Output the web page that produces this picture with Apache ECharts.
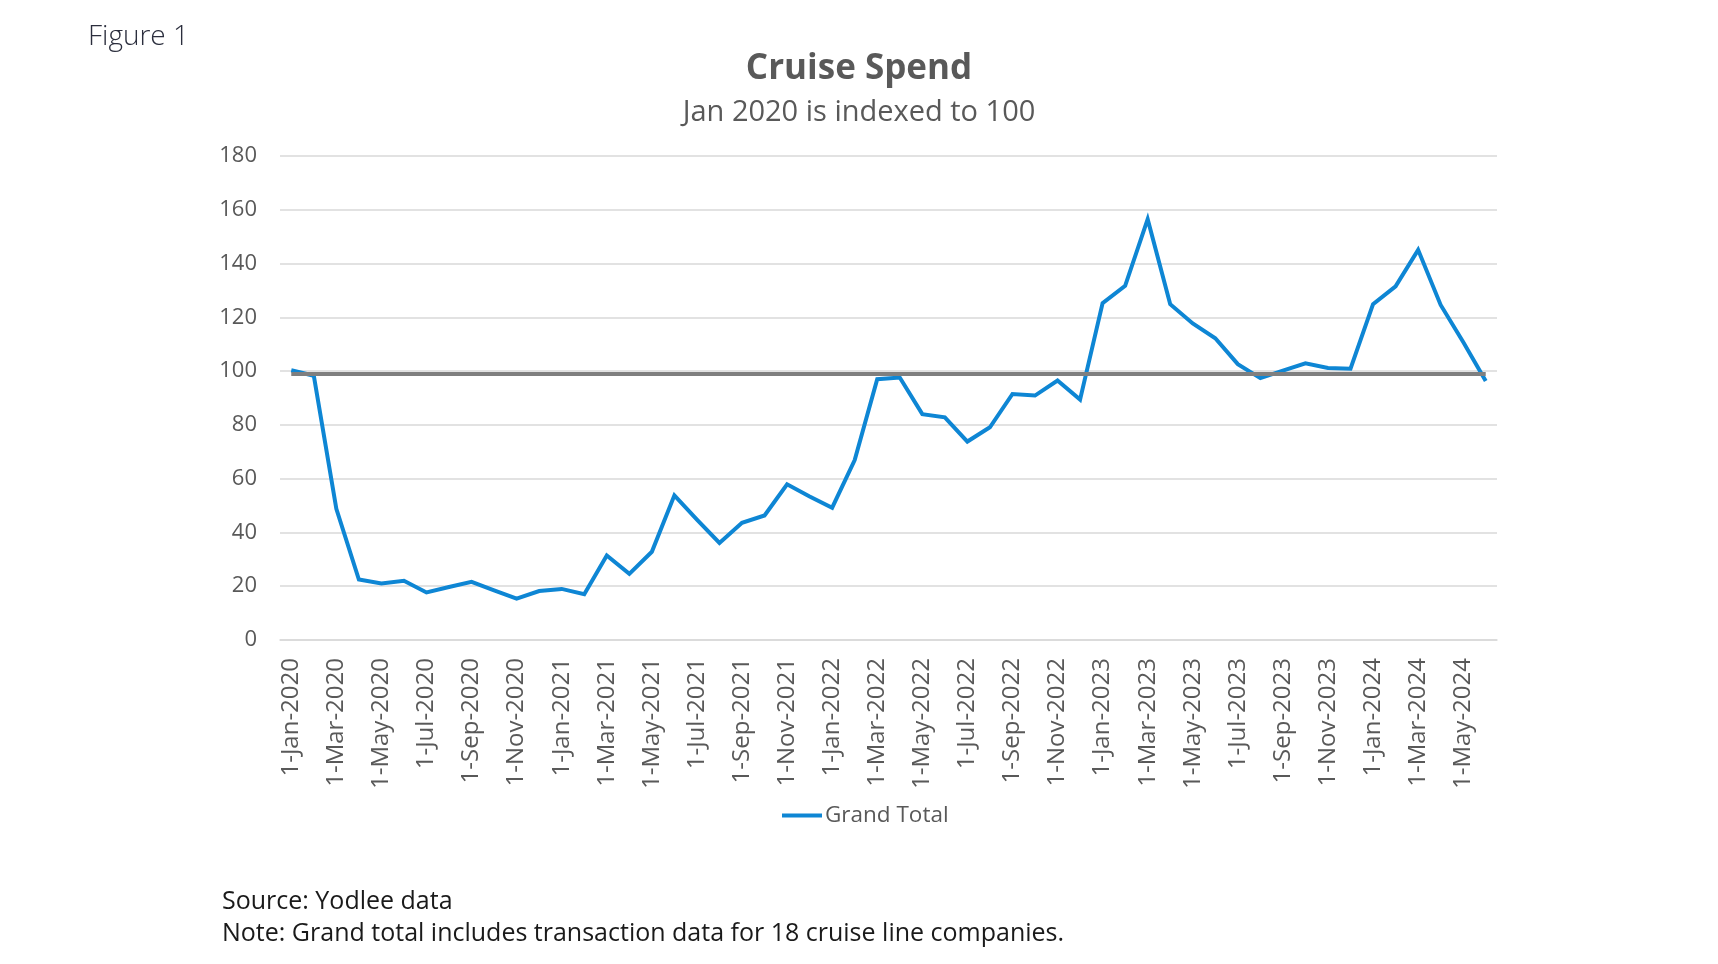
<!DOCTYPE html>
<html lang="en">
  <head>
    <meta charset="UTF-8" />
    <title>Cruise Spend</title>
    <script src="https://cdn.jsdelivr.net/npm/echarts@6.0.0/dist/echarts.min.js"></script>
    <style>
      html, body { margin: 0; padding: 0; background: #fff; }
      #chart { width: 1718px; height: 964px; }
    </style>
  </head>
  <body>
    <div id="chart"></div>
    <script>
      // monthly categories, Jan 2020 .. Jun 2024
      const months = [
        '1-Jan-2020', '1-Feb-2020', '1-Mar-2020', '1-Apr-2020', '1-May-2020', '1-Jun-2020',
        '1-Jul-2020', '1-Aug-2020', '1-Sep-2020', '1-Oct-2020', '1-Nov-2020', '1-Dec-2020',
        '1-Jan-2021', '1-Feb-2021', '1-Mar-2021', '1-Apr-2021', '1-May-2021', '1-Jun-2021',
        '1-Jul-2021', '1-Aug-2021', '1-Sep-2021', '1-Oct-2021', '1-Nov-2021', '1-Dec-2021',
        '1-Jan-2022', '1-Feb-2022', '1-Mar-2022', '1-Apr-2022', '1-May-2022', '1-Jun-2022',
        '1-Jul-2022', '1-Aug-2022', '1-Sep-2022', '1-Oct-2022', '1-Nov-2022', '1-Dec-2022',
        '1-Jan-2023', '1-Feb-2023', '1-Mar-2023', '1-Apr-2023', '1-May-2023', '1-Jun-2023',
        '1-Jul-2023', '1-Aug-2023', '1-Sep-2023', '1-Oct-2023', '1-Nov-2023', '1-Dec-2023',
        '1-Jan-2024', '1-Feb-2024', '1-Mar-2024', '1-Apr-2024', '1-May-2024', '1-Jun-2024'
      ];

      // Grand Total index (Jan 2020 = 100)
      const grandTotal = [
        100.3, 98.3, 48.8, 22.5, 21.0, 22.0, 17.7, 19.7, 21.6, 18.5, 15.4, 18.2,
        19.0, 17.0, 31.4, 24.6, 32.8, 53.8, 44.8, 36.1, 43.6, 46.3, 57.9, 53.4,
        49.2, 66.9, 97.0, 97.6, 84.0, 82.8, 73.8, 79.1, 91.5, 90.9, 96.5, 89.4,
        125.3, 131.7, 156.5, 124.9, 117.7, 112.2, 102.6, 97.4, 100.2, 102.9, 101.2, 100.9,
        124.9, 131.5, 145.1, 124.6, 110.8, 96.3
      ];

      // grey reference line
      const baseline = 99.2;

      const yTicks = { min: 0, max: 180, step: 20 };

      const FONT = '"Open Sans", sans-serif';
      const chart = echarts.init(document.getElementById('chart'));

      chart.setOption({
        animation: false,
        textStyle: { fontFamily: FONT },
        title: {
          text: 'Cruise Spend',
          subtext: 'Jan 2020 is indexed to 100',
          left: 'center',
          top: 47,
          itemGap: 11,
          textStyle: { fontFamily: FONT, fontSize: 35, fontWeight: 'bold', color: '#595959' },
          subtextStyle: { fontFamily: FONT, fontSize: 29, color: '#595959' }
        },
        legend: {
          left: 777,
          top: 799,
          icon: 'rect',
          itemWidth: 40,
          itemHeight: 4,
          itemGap: 4,
          textStyle: { fontFamily: FONT, fontSize: 22.5, color: '#595959', padding: [0, 0, 0, -2] },
          data: ['Grand Total']
        },
        grid: { left: 280, right: 221, top: 156, bottom: 324, containLabel: false },
        xAxis: {
          type: 'category',
          data: months,
          boundaryGap: true,
          axisLine: { show: true, lineStyle: { color: '#d9d9d9', width: 1.5 } },
          axisTick: { show: false },
          axisLabel: {
            interval: 1,
            rotate: 90,
            margin: 18,
            fontSize: 24,
            color: '#595959',
            fontFamily: FONT
          }
        },
        yAxis: {
          type: 'value',
          min: yTicks.min,
          max: yTicks.max,
          interval: yTicks.step,
          axisLine: { show: false },
          axisTick: { show: false },
          splitLine: { lineStyle: { color: '#d9d9d9', width: 1.5 } },
          axisLabel: { margin: 23, fontSize: 22, color: '#595959', fontFamily: FONT }
        },
        series: [
          {
            name: 'Grand Total',
            type: 'line',
            data: grandTotal,
            symbol: 'none',
            lineStyle: { color: '#0e86d4', width: 4, join: 'miter' },
            itemStyle: { color: '#0e86d4' },
            markLine: {
              silent: true,
              symbol: 'none',
              label: { show: false },
              lineStyle: { color: '#7f7f7f', width: 3.8, type: 'solid' },
              data: [[
                { coord: [months[0], baseline] },
                { coord: [months[months.length - 1], baseline] }
              ]]
            }
          }
        ],
        graphic: [
          {
            type: 'text',
            left: 88,
            top: 23,
            style: { text: 'Figure 1', font: '300 28px "Open Sans", sans-serif', fill: '#2b2e3d' }
          },
          {
            type: 'text',
            left: 222,
            top: 886,
            style: {
              text: 'Source: Yodlee data\nNote: Grand total includes transaction data for 18 cruise line companies.',
              font: '25px "Open Sans", sans-serif',
              lineHeight: 32,
              fill: '#1a1a1a'
            }
          }
        ]
      });
    </script>
  </body>
</html>
